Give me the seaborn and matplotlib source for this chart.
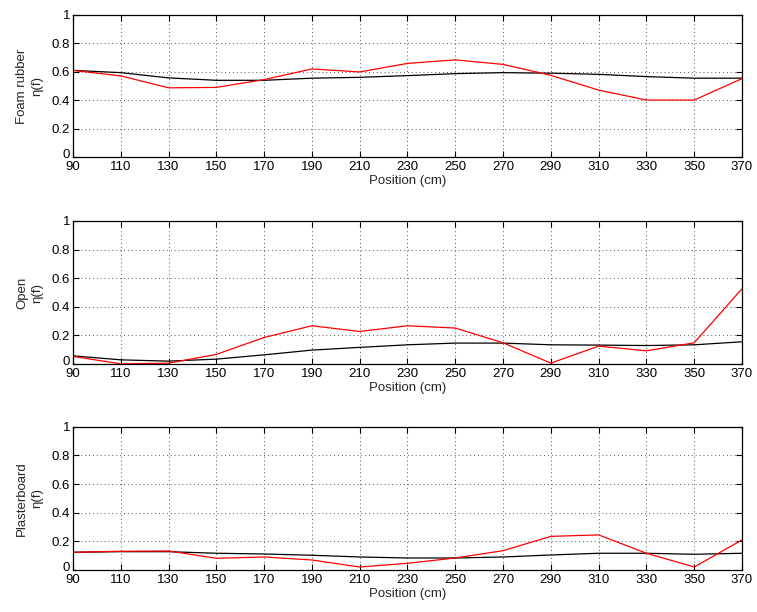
import matplotlib
matplotlib.use("Agg")
import matplotlib.pyplot as plt
import matplotlib.transforms as mtransforms
import seaborn as sns
import pandas as pd

positions = [90, 110, 130, 150, 170, 190, 210, 230, 250, 270, 290, 310, 330, 350, 370]

foam_black = [0.61, 0.594, 0.557, 0.54, 0.54, 0.555, 0.561, 0.573, 0.587, 0.594, 0.59, 0.582, 0.566, 0.555, 0.555]
foam_red = [0.61, 0.571, 0.487, 0.49, 0.545, 0.62, 0.599, 0.659, 0.684, 0.652, 0.575, 0.471, 0.401, 0.401, 0.552]

open_black = [0.058, 0.03, 0.021, 0.035, 0.065, 0.098, 0.117, 0.135, 0.147, 0.147, 0.135, 0.133, 0.13, 0.135, 0.156]
open_red = [0.054, 0.002, 0.007, 0.068, 0.186, 0.268, 0.228, 0.268, 0.252, 0.149, 0.007, 0.126, 0.093, 0.149, 0.527]

plaster_black = [0.124, 0.128, 0.128, 0.117, 0.112, 0.103, 0.091, 0.084, 0.084, 0.091, 0.105, 0.117, 0.117, 0.11, 0.117]
plaster_red = [0.124, 0.131, 0.133, 0.082, 0.091, 0.07, 0.021, 0.047, 0.084, 0.135, 0.235, 0.245, 0.117, 0.021, 0.21]

panel_names = ["Foam rubber", "Open", "Plasterboard"]
yticks = [0, 0.2, 0.4, 0.6, 0.8, 1]
ytick_labels = ["0", "0.2", "0.4", "0.6", "0.8", "1"]

sns.set_style("white")
plt.rcParams['font.family'] = ['Liberation Sans', 'DejaVu Sans']
fs = 9.5
plt.rcParams['font.size'] = fs

fig = plt.figure(figsize=(7.57, 6.12), dpi=100)
boxes = [(0.0964, 0.7435, 0.8838, 0.232),
         (0.0964, 0.405, 0.8838, 0.234),
         (0.0964, 0.0686, 0.8838, 0.234)]

data = [(foam_black, foam_red), (open_black, open_red), (plaster_black, plaster_red)]

for box, name, (blk, red) in zip(boxes, panel_names, data):
    ax = fig.add_axes(box)
    df = pd.DataFrame({"pos": positions, "black": blk, "red": red})
    sns.lineplot(data=df, x="pos", y="black", ax=ax, color="black", linewidth=0.9)
    sns.lineplot(data=df, x="pos", y="red", ax=ax, color="red", linewidth=0.9)
    ax.set_xlim(90, 370)
    ax.set_ylim(0, 1)
    ax.set_xticks(positions)
    ax.set_xticklabels([str(p) for p in positions])
    ax.set_yticks(yticks)
    ax.set_yticklabels(ytick_labels)
    ax.grid(True, linestyle=(0, (1, 3)), color="#555555", linewidth=0.7)
    ax.tick_params(direction="in", length=4, width=0.8, top=True, right=True,
                   bottom=True, left=True, labelsize=fs, colors="black")
    ax.tick_params(axis="x", pad=3)
    ax.tick_params(axis="y", pad=2)
    for s in ax.spines.values():
        s.set_visible(True)
        s.set_color("black")
        s.set_linewidth(0.9)
    # lift the "0" y label a little so it sits above the first x label
    lbl0 = ax.get_yticklabels()[0]
    lbl0.set_transform(lbl0.get_transform() +
                       mtransforms.ScaledTranslation(0, 2.5 / 72, fig.dpi_scale_trans))
    ax.set_xlabel("Position (cm)", labelpad=1, fontsize=fs)
    ax.set_ylabel(name + "\nη(f)", fontsize=fs, labelpad=6, linespacing=1.4)

fig.savefig("out.png", dpi=100, facecolor="white")
